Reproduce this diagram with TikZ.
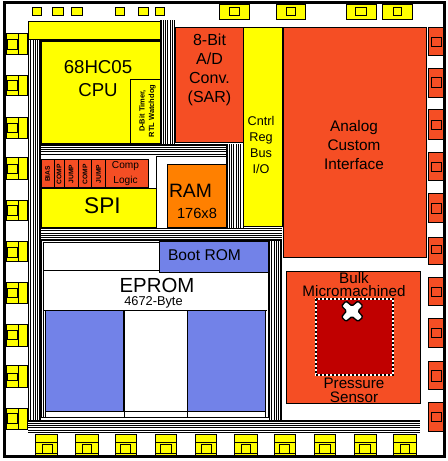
\documentclass[tikz,border=0pt]{standalone}
\usepackage{fontspec}
\setmainfont{Liberation Sans}
\definecolor{chipred}{HTML}{F54E24}
\definecolor{chipblue}{HTML}{7282E8}
\definecolor{chipyellow}{HTML}{FFFF00}
\definecolor{chiporange}{HTML}{FF8000}
\definecolor{chipdark}{HTML}{C00000}
\newcommand{\fsz}[1]{\fontsize{#1}{#1}\selectfont}

\begin{document}
\begin{tikzpicture}[
            x=0.75pt, y=-0.75pt,
            px/.style={line width=0.75pt, draw=black},
            yblock/.style={px, fill=chipyellow},
            rblock/.style={px, fill=chipred},
            bblock/.style={px, fill=chipblue},
            wblock/.style={px, fill=white},
            padin/.style={px},
            wire/.style={line width=0.85pt, black},
            lbl/.style={align=center, inner sep=0pt, text=black}
        ]
            \useasboundingbox (0,0) rectangle (448,461);
            \fill[white] (0,0) rectangle (448,461);
            \draw[line width=2.25pt] (4.7,2.5) rectangle (444.8,456.5);

            % --- Small top pads ---
            \foreach \xa/\xb in {32/41, 52/63, 71/82, 115/124, 138/148, 155/164}
              \draw[yblock] (\xa,7) rectangle (\xb,15);

            % --- Top pads ---
            \foreach \xa/\xb/\ia/\ib in {219/249/229/239, 276/305/286/295, 346/376/355/366, 382/412/393/401} {
              \draw[yblock] (\xa,4) rectangle (\xb,19);
              \draw[padin] (\ia,7) rectangle (\ib,15);
            }

            % --- Left pads ---
            \foreach \ya/\yb/\ia/\ib in {33/54/39/49, 75/95/80/90, 117/138/123/132, 157/179/164/173, 200/220/205/215,
                                         241/261/247/257, 282/303/288/297, 324/346/330/339, 365/387/373/380, 408/429/413/423} {
              \draw[yblock] (6,\ya) rectangle (27,\yb);
              \draw[padin] (18,\ya) -- (18,\yb);
              \draw[padin] (7.5,\ia) rectangle (17,\ib);
            }

            % --- Right pads ---
            \foreach \ya/\yb/\ia/\ib in {27/55/37/46, 68/97/77/87, 109/139/120/129, 152/180/162/171, 193/222/203/213,
                                         237/264/245/253, 277/305/287/296, 318/347/328/337, 361/389/370/381, 402/431/412/421} {
              \draw[rblock] (428,\ya) rectangle (443,\yb);
              \draw[padin] (431,\ia) rectangle (441,\ib);
            }

            % --- Bottom pads ---
            \foreach \xa/\xb/\ia/\ib in {35/57/42/52, 75/98/82/91, 115/136/120/130, 155/176/160/171, 195/216/201/211,
                                         234/257/241/250, 274/295/279/289, 314/335/319/330, 354/376/359/370, 393/416/400/409} {
              \fill[chipyellow] (\xa,434) rectangle (\xb,455);
              \draw[padin] (\xa,455) -- (\xa,434) -- (\xb,434) -- (\xb,455);
              \draw[padin] (\xa,442) -- (\xb,442);
              \draw[padin] (\xa,453) -- (\xb,453);
              \draw[padin] (\ia,453) -- (\ia,444) -- (\ib,444) -- (\ib,453);
            }

            % --- Buses ---
            \foreach \i in {0,...,5}
              \draw[wire] (28.5+2.3*\i,39) -- (28.5+2.3*\i,420);
            \foreach \i in {0,...,6}
              \draw[wire] (161+2.3*\i,20) -- (161+2.3*\i,144);
            \foreach \i in {0,...,4}
              \draw[wire] (40,145+2.3*\i) -- (227,145+2.3*\i);
            \foreach \i in {0,...,7}
              \draw[wire] (227+2.3*\i,144) -- (227+2.3*\i,228);
            \foreach \i in {0,...,5}
              \draw[wire] (40,228.5+2.3*\i) -- (282,228.5+2.3*\i);
            \foreach \i in {0,...,5}
              \draw[wire] (269.5+2.3*\i,240) -- (269.5+2.3*\i,420);
            \foreach \i in {0,...,5}
              \draw[wire] (28,421+2.3*\i) -- (420,421+2.3*\i);

            % --- CPU ---
            \draw[yblock] (28,21) rectangle (160,39);
            \draw[yblock, line width=1.5pt] (41,40.5) rectangle (160.5,144);
            \draw[px] (130.5,79) -- (160,79);
            \draw[px] (130.5,79) -- (130.5,144);
            \node[lbl, font=\fsz{14}] (cpu) at (98,78.5) {68HC05\\[3.5pt]CPU};
            \node[lbl, font=\fsz{5.6}\bfseries, rotate=90] (timer) at (147.5,111) {D-Bit Timer,\\[1.5pt]RTL Watchdog};

            % --- Converter, control, analog ---
            \draw[rblock] (175,27) rectangle (243,142);
            \node[lbl, font=\fsz{12}] (adc) at (209.5,70) {8-Bit\\[2.3pt]A/D\\[2.3pt]Conv.\\[2.3pt](SAR)};
            \draw[yblock] (243,27) rectangle (282,226);
            \node[lbl, font=\fsz{9.5}] (reg) at (261,145) {Cntrl\\[2.5pt]Reg\\[2.5pt]Bus\\[2.5pt]I/O};
            \draw[rblock] (283,27) rectangle (426,257);
            \node[lbl, font=\fsz{11.5}] (analog) at (354,145) {Analog\\[2.8pt]Custom\\[2.8pt]Interface};

            % --- Comparator row and SPI ---
            \draw[rblock] (41,159) rectangle (148,187.5);
            \foreach \x in {54,64.3,78.3,91.7,105.7}
              \draw[px] (\x,159) -- (\x,187.5);
            \node[lbl, font=\fsz{5}\bfseries, rotate=90] (bias) at (47.5,174) {BIAS};
            \node[lbl, font=\fsz{5}\bfseries, rotate=90] (cmpa) at (59,174) {COMP};
            \node[lbl, font=\fsz{5}\bfseries, rotate=90] (jmpa) at (71,174) {JUMP};
            \node[lbl, font=\fsz{5}\bfseries, rotate=90] (cmpb) at (85,174) {COMP};
            \node[lbl, font=\fsz{5}\bfseries, rotate=90] (jmpb) at (98.5,174) {JUMP};
            \node[lbl, font=\fsz{7.6}] (comp) at (125.5,173.5) {Comp\\[3pt]Logic};
            \draw[yblock] (41,188.5) rectangle (156,227);
            \node[lbl, font=\fsz{17}] (spi) at (102.5,205.5) {SPI};

            % --- RAM ---
            \draw[px] (156,188) -- (156,156) -- (227,156);
            \draw[px, fill=chiporange] (167,164) rectangle (226,227);
            \node[lbl, font=\fsz{14.5}] (ram) at (190.5,190.5) {RAM};
            \node[lbl, font=\fsz{11}] (size) at (197,213.5) {176x8};

            % --- EPROM ---
            \draw[wblock] (41,240) rectangle (268.5,417);
            \draw[px] (43.5,417) -- (43.5,242.5) -- (159,242.5);
            \draw[px] (43.5,270.5) -- (159,270.5);
            \draw[px] (43.5,310.5) -- (267,310.5);
            \draw[px] (265.7,310.5) -- (265.7,417);
            \draw[bblock] (159,241) rectangle (268,272);
            \node[lbl, font=\fsz{11.7}] (boot) at (204.5,255) {Boot ROM};
            \node[lbl, font=\fsz{15.3}] (eprom) at (157,285) {EPROM};
            \node[lbl, font=\fsz{9.6}] (bytes) at (153.5,302.5) {4672-Byte};
            \draw[bblock] (45,310.5) rectangle (124,411);
            \draw[bblock] (187,310.5) rectangle (265.7,411);
            \draw[line width=1.5pt] (124,310.5) -- (124,411);
            \draw[px] (45,411) -- (265.7,411);
            \draw[px] (45,411) -- (45,417);
            \draw[px] (124,411) -- (124,417);
            \draw[px] (187,411) -- (187,417);

            % --- Pressure sensor ---
            \draw[rblock] (286,271) rectangle (420,403);
            \draw[fill=chipdark, draw=white, line width=1.2pt] (316,299) rectangle (393,375);
            \draw[black, line width=1.2pt, dash pattern=on 1.5pt off 1.5pt] (316,299) rectangle (393,375);
            \node[lbl, font=\fsz{11.4}] (bulk) at (354,284.5) {Bulk\\[-1pt]Micromachined};
            \node[lbl, font=\fsz{11.4}] (sensor) at (354,390.5) {Pressure\\[-0.6pt]Sensor};
            \draw[fill=white, draw=black, line width=1pt, rounded corners=1pt]
              (341.5,306) -- (346,301) -- (352,306) -- (358,301) -- (363,306) -- (358,311)
              -- (363,317) -- (358,321.5) -- (352,316.5) -- (346,321.5) -- (341.5,317) -- (346.5,311) -- cycle;
        \end{tikzpicture}
\end{document}
